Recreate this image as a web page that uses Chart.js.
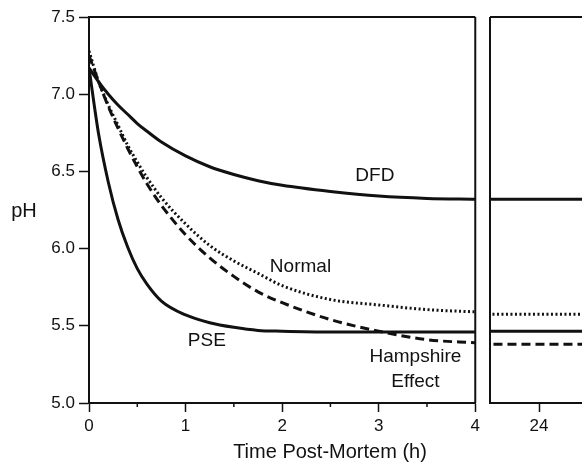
<!DOCTYPE html>
<html>
<head>
<meta charset="utf-8">
<script src="https://cdn.jsdelivr.net/npm/chart.js@4"></script>
<style>
  body { margin: 0; background: #fff; }
  #wrap { position: relative; width: 582px; height: 464px; overflow: hidden; }
  canvas { position: absolute; top: 0; }
</style>
</head>
<body>
<div id="wrap">
  <canvas id="leftChart" width="484" height="464" style="left:0"></canvas>
  <canvas id="rightChart" width="100" height="464" style="left:482px"></canvas>
</div>
<script>
// time post-mortem (h), left panel
const times = [0, 0.1, 0.2, 0.3, 0.4, 0.5, 0.6, 0.75, 1, 1.25, 1.5, 1.75, 2, 2.5, 3, 3.5, 4];
// pH
const dfd       = [7.17, 7.08, 7.00, 6.93, 6.87, 6.81, 6.76, 6.69, 6.60, 6.53, 6.48, 6.44, 6.41, 6.37, 6.34, 6.325, 6.32];
const normal    = [7.28, 7.08, 6.93, 6.80, 6.67, 6.56, 6.46, 6.33, 6.16, 6.02, 5.92, 5.84, 5.76, 5.67, 5.635, 5.605, 5.59];
const pse       = [7.17, 6.74, 6.43, 6.19, 6.01, 5.87, 5.77, 5.66, 5.57, 5.52, 5.49, 5.47, 5.465, 5.46, 5.46, 5.46, 5.46];
const hampshire = [7.25, 7.08, 6.92, 6.78, 6.65, 6.53, 6.42, 6.28, 6.09, 5.94, 5.82, 5.72, 5.65, 5.54, 5.465, 5.41, 5.39];

// right panel (24 h), levels are flat
const lateTimes = [21, 27];
const dfdLate = [6.32, 6.32];
const normalLate = [5.575, 5.575];
const pseLate = [5.465, 5.465];
const hampshireLate = [5.38, 5.38];

const yTicks = [5.0, 5.5, 6.0, 6.5, 7.0, 7.5];
const lateTicks = [24];

// curve labels: text, time, pH
const notes = [
  ['DFD', 2.96, 6.47],
  ['Normal', 2.19, 5.88],
  ['PSE', 1.22, 5.40],
  ['Hampshire', 3.38, 5.30],
  ['Effect', 3.38, 5.14]
];

const FONT = '"Liberation Sans", Arial, Helvetica, sans-serif';
const INK = '#111';

function pts(xs, ys) {
  return xs.map((x, i) => ({ x: x, y: ys[i] }));
}

function series(xs, ys, dash) {
  return {
    data: pts(xs, ys),
    borderColor: INK,
    borderWidth: 3,
    borderDash: dash,
    borderCapStyle: 'butt',
    pointRadius: 0,
    fill: false,
    cubicInterpolationMode: 'monotone'
  };
}

const yScale = {
  type: 'linear',
  min: 5,
  max: 7.5,
  afterBuildTicks: s => { s.ticks = yTicks.map(v => ({ value: v })); },
  afterFit: s => { s.width = 89; },
  ticks: {
    color: INK,
    font: { family: FONT, size: 17 },
    padding: 4,
    callback: v => v.toFixed(1)
  },
  grid: { drawOnChartArea: false, tickLength: 10, tickColor: INK, tickWidth: 1.5 },
  border: { display: true, color: INK, width: 2 }
};

// box edges, minor ticks and text labels on the left panel
const leftDecor = {
  id: 'leftDecor',
  afterDraw(chart) {
    const c = chart.ctx, a = chart.chartArea, x = chart.scales.x, y = chart.scales.y;
    c.save();
    c.strokeStyle = INK;
    c.lineWidth = 2;
    c.beginPath();
    c.moveTo(a.left, a.top); c.lineTo(a.right, a.top);
    c.moveTo(a.right, a.top); c.lineTo(a.right, a.bottom);
    c.stroke();
    c.lineWidth = 1.5;
    c.beginPath();
    [0.5, 1.5, 2.5, 3.5].forEach(t => {
      const px = x.getPixelForValue(t);
      c.moveTo(px, a.bottom); c.lineTo(px, a.bottom + 4);
    });
    c.stroke();
    c.fillStyle = INK;
    c.textAlign = 'center';
    c.textBaseline = 'middle';
    c.font = '19px ' + FONT;
    notes.forEach(n => c.fillText(n[0], x.getPixelForValue(n[1]), y.getPixelForValue(n[2])));
    c.font = '20px ' + FONT;
    c.fillText('pH', 24, 211);
    c.fillText('Time Post-Mortem (h)', 330, 452);
    c.restore();
  }
};

new Chart(document.getElementById('leftChart'), {
  type: 'line',
  data: {
    datasets: [
      series(times, dfd, []),
      series(times, normal, [2, 2.5]),
      series(times, pse, []),
      series(times, hampshire, [9, 5])
    ]
  },
  options: {
    responsive: false,
    animation: false,
    layout: { padding: { top: 17, right: 6, left: 0, bottom: 0 } },
    plugins: { legend: { display: false }, tooltip: { enabled: false } },
    scales: {
      x: {
        type: 'linear',
        min: 0,
        max: 4,
        afterFit: s => { s.height = 61; },
        ticks: { stepSize: 1, color: INK, font: { family: FONT, size: 17 }, padding: 4 },
        grid: { drawOnChartArea: false, tickLength: 9, tickColor: INK, tickWidth: 1.5 },
        border: { display: true, color: INK, width: 2 }
      },
      y: yScale
    }
  },
  plugins: [leftDecor]
});

const rightDecor = {
  id: 'rightDecor',
  afterDraw(chart) {
    const c = chart.ctx, a = chart.chartArea;
    c.save();
    c.strokeStyle = INK;
    c.lineWidth = 2;
    c.beginPath();
    c.moveTo(a.left, a.top); c.lineTo(a.right, a.top);
    c.moveTo(a.left, a.top); c.lineTo(a.left, a.bottom);
    c.stroke();
    c.restore();
  }
};

new Chart(document.getElementById('rightChart'), {
  type: 'line',
  data: {
    datasets: [
      series(lateTimes, dfdLate, []),
      series(lateTimes, normalLate, [2, 2.5]),
      series(lateTimes, pseLate, []),
      series(lateTimes, hampshireLate, [9, 5])
    ]
  },
  options: {
    responsive: false,
    animation: false,
    layout: { padding: { top: 17, right: 0, left: 8, bottom: 0 } },
    plugins: { legend: { display: false }, tooltip: { enabled: false } },
    scales: {
      x: {
        type: 'linear',
        min: 22,
        max: 25.75,
        afterBuildTicks: s => { s.ticks = lateTicks.map(v => ({ value: v })); },
        afterFit: s => { s.height = 61; },
        ticks: { color: INK, font: { family: FONT, size: 17 }, padding: 4, maxRotation: 0 },
        grid: { drawOnChartArea: false, tickLength: 9, tickColor: INK, tickWidth: 1.5 },
        border: { display: true, color: INK, width: 2 }
      },
      y: { type: 'linear', min: 5, max: 7.5, display: false }
    }
  },
  plugins: [rightDecor]
});
</script>
</body>
</html>
